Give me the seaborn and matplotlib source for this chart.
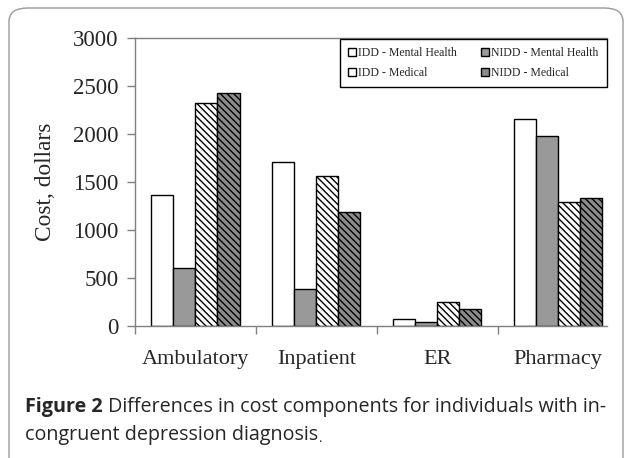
import pandas as pd
import seaborn as sns
import matplotlib.pyplot as plt
from matplotlib.patches import FancyBboxPatch

components = ["Ambulatory", "Inpatient", "ER", "Pharmacy"]
groups = ["IDD - Mental Health", "NIDD - Mental Health", "IDD - Medical", "NIDD - Medical"]
idd_mental = [1360, 1705, 70, 2155]
nidd_mental = [600, 385, 40, 1980]
idd_medical = [2320, 1565, 250, 1290]
nidd_medical = [2425, 1185, 180, 1335]

rows = []
for g, vals in zip(groups, [idd_mental, nidd_mental, idd_medical, nidd_medical]):
    for c, v in zip(components, vals):
        rows.append({"component": c, "group": g, "cost": v})
df = pd.DataFrame(rows)

sns.set_style("white")
plt.rcParams["hatch.linewidth"] = 1.0
plt.rcParams["font.family"] = ["Liberation Serif", "DejaVu Serif"]

fig = plt.figure(figsize=(6.28, 4.58), dpi=100)
ax = fig.add_axes([135 / 628, 1 - 326 / 458, 472 / 628, 288 / 458])

palette = ["white", "#999999", "white", "#8c8c8c"]
sns.barplot(data=df, x="component", y="cost", hue="group", palette=palette,
            edgecolor="black", linewidth=1, width=0.73, saturation=1, ax=ax)

hatches = [None, None, "\\\\\\\\\\", "\\\\\\\\\\"]
for cont, h in zip(ax.containers, hatches):
    for bar in cont:
        if h:
            bar.set_hatch(h)

ax.set_ylim(0, 3000)
ax.set_xlim(-0.5, 3.405)
ax.set_yticks(range(0, 3001, 500))
ax.tick_params(axis="y", labelsize=16.5, length=6, width=1, color="#808080", direction="out", left=True, pad=6)
ax.tick_params(axis="x", which="major", labelsize=16, length=0, pad=17)
ax.set_xticks([-0.5, 0.5, 1.5, 2.5], minor=True)
ax.tick_params(axis="x", which="minor", length=6, width=1, color="#808080", direction="out", bottom=True)
ax.set_xlabel("")
ax.set_ylabel("Cost, dollars", fontsize=16.8, labelpad=12)

for side in ["left", "bottom", "top"]:
    ax.spines[side].set_color("#808080")
    ax.spines[side].set_linewidth(1)
ax.spines["right"].set_visible(False)

# legend filled row by row like the original
handles, labels = ax.get_legend_handles_labels()
order = [0, 2, 1, 3]
leg = ax.legend([handles[i] for i in order], [labels[i] for i in order],
                ncol=2, loc="upper right", bbox_to_anchor=(1.0, 0.997),
                fontsize=8.5, frameon=True, fancybox=False, framealpha=1,
                edgecolor="black", handlelength=0.7, handleheight=0.7,
                handletextpad=0.2, columnspacing=2.0, labelspacing=0.65,
                borderpad=0.7, borderaxespad=0)
leg.get_frame().set_linewidth(1)

# rounded outer frame
frame = FancyBboxPatch((9 / 628, -0.05), 614 / 628, 1.05 - 8 / 458,
                       boxstyle="round,pad=0,rounding_size=0.03",
                       transform=fig.transFigure, fill=False,
                       edgecolor="#999999", linewidth=1)
fig.add_artist(frame)

cap_font = ["Open Sans", "DejaVu Sans"]
bold = fig.text(25 / 628, 1 - 412 / 458, "Figure 2", fontsize=14.2, fontweight="bold",
                family=cap_font, va="baseline", ha="left")
ax.annotate(" Differences in cost components for individuals with in-",
            xy=(1, 0), xycoords=bold, va="bottom", ha="left",
            fontsize=14.2, family=cap_font, annotation_clip=False)
line2 = fig.text(25 / 628, 1 - 440 / 458, "congruent depression diagnosis", fontsize=14.2,
                 family=cap_font, va="baseline", ha="left")
ax.annotate(".", xy=(1, 0), xycoords=line2, va="bottom", ha="left",
            fontsize=10, family=["Liberation Serif"], annotation_clip=False)

fig.savefig("out.png", dpi=100)
